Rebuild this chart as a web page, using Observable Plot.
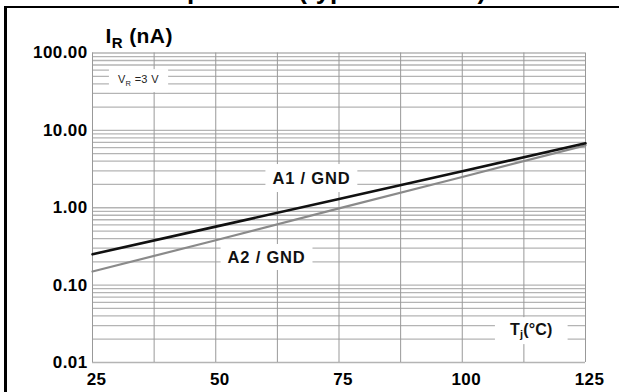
<!DOCTYPE html>
<html>
<head>
<meta charset="utf-8">
<script src="https://cdn.jsdelivr.net/npm/d3@7"></script>
<script src="https://cdn.jsdelivr.net/npm/@observablehq/plot@0.6"></script>
<style>
  html, body { margin: 0; padding: 0; background: #fff; overflow: hidden; }
  #wrap { position: relative; width: 619px; height: 392px; overflow: hidden; background: #fff; }
  #wrap svg { position: absolute; left: 0; top: 0; }
  #frame { position: absolute; left: 4px; top: 6px; width: 700px; height: 500px;
           border-top: 2.5px solid #000; border-left: 3px solid #000; pointer-events: none; }
  #title { position: absolute; left: 4px; width: 619px; top: -23.5px; text-align: center;
           font: bold 26px "Liberation Sans", Arial, sans-serif; line-height: 26px; white-space: nowrap; }
</style>
</head>
<body>
<div id="wrap"></div>
<script>
// ---- data ----
const tempC = [25, 50, 75, 100, 125];
const irA1 = [0.25, 0.57, 1.30, 2.96, 6.8];
const irA2 = [0.15, 0.38, 0.98, 2.5, 6.4];
const xTickValues = [25, 50, 75, 100, 125];
const xGridValues = [25, 37.5, 50, 62.5, 75, 87.5, 100, 112.5, 125];
const yTickValues = [0.01, 0.1, 1, 10, 100];
const yGridValues = [
  0.01, 0.02, 0.03, 0.04, 0.05, 0.06, 0.07, 0.08, 0.09,
  0.1, 0.2, 0.3, 0.4, 0.5, 0.6, 0.7, 0.8, 0.9,
  1, 2, 3, 4, 5, 6, 7, 8, 9,
  10, 20, 30, 40, 50, 60, 70, 80, 90,
  100
];
const labelTexts = ["A1 / GND", "A2 / GND", "VR =3 V", "Tj(°C)"];
const labelX = [69.4, 60.3, 34.3, 114];
const labelY = [2.37, 0.226, 45, 0.0265];
const axisTitle = "IR (nA)";
const chartTitle = "temperature (typical values)";

// ---- chart ----
const rowsA1 = tempC.map((t, i) => ({t, v: irA1[i]}));
const rowsA2 = tempC.map((t, i) => ({t, v: irA2[i]}));
const labelRows = labelTexts.map((s, i) => ({s, x: labelX[i], y: labelY[i], i}));
const font = "'Liberation Sans', Arial, sans-serif";

const plot = Plot.plot({
  width: 619,
  height: 392,
  marginLeft: 92,
  marginRight: 34,
  marginTop: 52.5,
  marginBottom: 30,
  style: {fontFamily: font, fontSize: "17px", fontWeight: "bold", color: "#000", background: "transparent"},
  x: {domain: [25, 125], axis: null},
  y: {type: "log", domain: [0.01, 100], axis: null},
  marks: [
    Plot.ruleY(yGridValues, {stroke: "#b4b4b4", strokeWidth: 1.3}),
    Plot.ruleX(xGridValues, {stroke: "#999", strokeWidth: 1}),
    Plot.line(rowsA2, {x: "t", y: "v", stroke: "#8a8a8a", strokeWidth: 2.2}),
    Plot.line(rowsA1, {x: "t", y: "v", stroke: "#111", strokeWidth: 2.6}),
    Plot.text(labelRows.filter(d => d.i < 2), {x: "x", y: "y", text: "s", fontSize: 16.5, fontWeight: "bold", fill: "#111"}),
    Plot.text(labelRows.filter(d => d.i === 2), {x: "x", y: "y", text: "s", fontSize: 11, fontWeight: "normal", fill: "#222"}),
    Plot.text(labelRows.filter(d => d.i === 3), {x: "x", y: "y", text: "s", fontSize: 16, fontWeight: "bold", fill: "#111"}),
    Plot.axisX(xTickValues, {tickSize: 0, tickPadding: 10, dx: 4, label: null, fontSize: 17, fontWeight: "bold"}),
    Plot.axisY(yTickValues, {tickSize: 0, tickPadding: 5, label: null, tickFormat: d3.format(".2f"), fontSize: 17, fontWeight: "bold"}),
    Plot.text([axisTitle], {frameAnchor: "top-left", textAnchor: "start", lineAnchor: "bottom", dx: 13, dy: -10.5, fontSize: 21, fontWeight: "bold"})
  ]
});

const wrap = document.getElementById("wrap");
wrap.appendChild(plot);
const frame = document.createElement("div");
frame.id = "frame";
wrap.appendChild(frame);
const title = document.createElement("div");
title.id = "title";
title.textContent = chartTitle;
wrap.appendChild(title);

// letter spacing for the bold figures
d3.select(plot).selectAll("text").style("letter-spacing", "0.4px");

const SVGNS = "http://www.w3.org/2000/svg";
function withSubscript(el, main, sub, rest, subSize, shift) {
  el.textContent = "";
  const a = document.createElementNS(SVGNS, "tspan");
  a.textContent = main;
  const b = document.createElementNS(SVGNS, "tspan");
  b.textContent = sub;
  b.setAttribute("font-size", subSize);
  b.setAttribute("dy", shift);
  const c = document.createElementNS(SVGNS, "tspan");
  c.textContent = rest;
  c.setAttribute("dy", -shift);
  el.append(a, b, c);
}

// white boxes behind the annotations
const boxSpec = {
  "A1 / GND": {padX: 7, h: 28},
  "A2 / GND": {padX: 7, h: 26},
  "VR =3 V": {padX: 9, h: 23},
  "Tj(°C)": {padX: 15, h: 27}
};

d3.select(plot).selectAll("text").each(function() {
  const s = this.textContent;
  if (s === "VR =3 V") withSubscript(this, "V", "R", " =3 V", 7.5, 2.5);
  else if (s === "Tj(°C)") withSubscript(this, "T", "j", "(°C)", 11, 3.5);
  else if (s === axisTitle) withSubscript(this, "I", "R", " (nA)", 15, 5);
  if (s === "A1 / GND" || s === "A2 / GND") this.style.letterSpacing = "0.8px";
  if (s === "VR =3 V") this.style.letterSpacing = "0.3px";
  if (s === "Tj(°C)") this.style.letterSpacing = "0.2px";
  const spec = boxSpec[s];
  if (spec) {
    const bb = this.getBBox();
    const cy = bb.y + bb.height / 2;
    const r = document.createElementNS(SVGNS, "rect");
    r.setAttribute("x", bb.x - spec.padX);
    r.setAttribute("y", cy - spec.h / 2);
    r.setAttribute("width", bb.width + 2 * spec.padX);
    r.setAttribute("height", spec.h);
    r.setAttribute("fill", "#fff");
    const tr = this.getAttribute("transform");
    if (tr) r.setAttribute("transform", tr);
    this.parentNode.insertBefore(r, this);
  }
});
</script>
</body>
</html>
